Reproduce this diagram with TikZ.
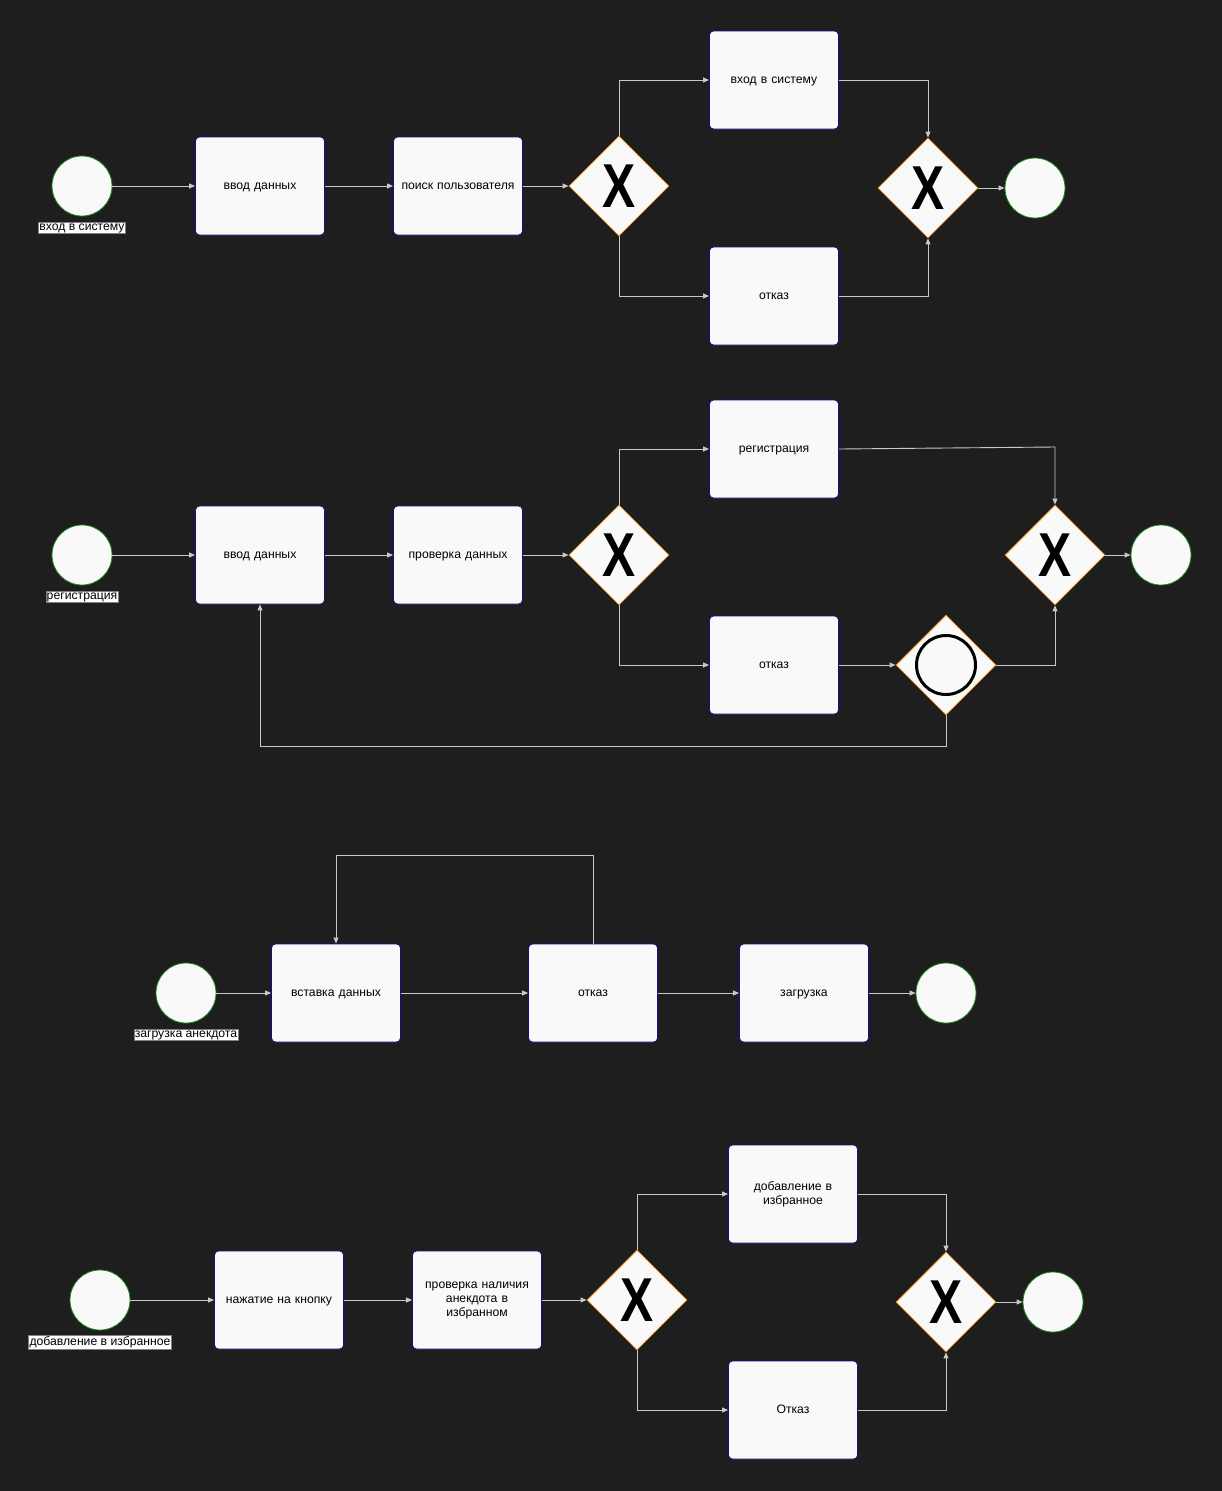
\documentclass[tikz,border=0pt]{standalone}
\usepackage{fontspec}
\setmainfont{Liberation Sans}
\usetikzlibrary{shapes.geometric,arrows.meta}
\definecolor{bg}{HTML}{1E1E1E}
\definecolor{boxfill}{HTML}{F9F9F9}
\definecolor{navy}{HTML}{10108A}
\definecolor{evgreen}{HTML}{1A8A1A}
\definecolor{gworange}{HTML}{E88A10}
\definecolor{linec}{HTML}{C8C8C8}
\tikzset{
 task/.style={draw=navy, fill=boxfill, rounded corners=4pt, minimum width=129pt, minimum height=98pt, line width=0.8pt, align=center, text width=118pt, font=\fontsize{12.2}{14}\selectfont, text=black, inner sep=0pt},
 task1/.style={task, text height=6pt, text depth=0pt},
 ev/.style={circle, draw=evgreen, fill=boxfill, minimum size=60pt, inner sep=0pt, line width=0.8pt},
 gw/.style={diamond, draw=gworange, fill=boxfill, minimum width=100pt, minimum height=100pt, inner sep=0pt, line width=0.8pt, text=black},
 lbl/.style={fill=white, draw=gray, inner sep=1pt, text=black, font=\fontsize{12.2}{13}\selectfont},
 flow/.style={draw=linec, line width=0.9pt, -{Triangle[length=6pt,width=5pt]}, color=linec}
}
\newcommand{\bigX}{\scalebox{0.8}[1]{\fontsize{62}{62}\selectfont\bfseries X}}
\begin{document}
\begin{tikzpicture}[x=1pt,y=-1pt]
\path[fill=bg] (0,0) rectangle (1222,1491);
\useasboundingbox (0,0) rectangle (1222,1491);
% ---------- Section 1
\node[ev] (s1) at (82,186) {};
\node[lbl] (s1l) at (82,228) {вход в систему};
\node[task1] (a1) at (260,186) {ввод данных};
\node[task1] (a2) at (458,186) {поиск пользователя};
\node[gw] (g1) at (619,186) {\bigX};
\node[task1] (a3) at (774,80) {вход в систему};
\node[task1] (a4) at (774,296) {отказ};
\node[gw] (g2) at (928,188) {\bigX};
\node[ev] (e1) at (1035,188) {};
\draw[flow] (s1) -- (a1);
\draw[flow] (a1) -- (a2);
\draw[flow] (a2) -- (g1);
\draw[flow] (g1.north) |- (a3.west);
\draw[flow] (g1.south) |- (a4.west);
\draw[flow] (a3.east) -| (g2.north);
\draw[flow] (a4.east) -| (g2.south);
\draw[flow] (g2) -- (e1);
% ---------- Section 2
\node[ev] (s2) at (82,555) {};
\node[lbl] (s2l) at (82,597) {регистрация};
\node[task1] (b1) at (260,555) {ввод данных};
\node[task1] (b2) at (458,555) {проверка данных};
\node[gw] (g3) at (619,555) {\bigX};
\node[task1] (b3) at (774,449) {регистрация};
\node[task1] (b4) at (774,665) {отказ};
\node[gw] (g4) at (946,665) {};
\draw[black, line width=3pt] (g4.center) circle (29.5pt);
\node[gw] (g5) at (1055,555) {\bigX};
\node[ev] (e2) at (1161,555) {};
\draw[flow] (s2) -- (b1);
\draw[flow] (b1) -- (b2);
\draw[flow] (b2) -- (g3);
\draw[flow] (g3.north) |- (b3.west);
\draw[flow] (g3.south) |- (b4.west);
\draw[flow] (b3.east) -- (1055,447) -- (g5.north);
\draw[flow] (b4) -- (g4);
\draw[flow] (g4.east) -| (g5.south);
\draw[flow] (g4.south) -- (946,746) -| (b1.south);
\draw[flow] (g5) -- (e2);
% ---------- Section 3
\node[ev] (s3) at (186,993) {};
\node[lbl] (s3l) at (186,1035) {загрузка анекдота};
\node[task1] (c1) at (336,993) {вставка данных};
\node[task1] (c2) at (593,993) {отказ};
\node[task1] (c3) at (804,993) {загрузка};
\node[ev] (e3) at (946,993) {};
\draw[flow] (s3) -- (c1);
\draw[flow] (c1) -- (c2);
\draw[flow] (c2) -- (c3);
\draw[flow] (c3) -- (e3);
\draw[flow] (c2.north) -- (593,855) -| (c1.north);
% ---------- Section 4
\node[ev] (s4) at (100,1300) {};
\node[lbl] (s4l) at (100,1342) {добавление в избранное};
\node[task1] (d1) at (279,1300) {нажатие на кнопку};
\node[task] (d2) at (477,1300) {проверка наличия\\анекдота в\\избранном};
\node[gw] (g6) at (637,1300) {\bigX};
\node[task] (d3) at (793,1194) {добавление в\\избранное};
\node[task1] (d4) at (793,1410) {Отказ};
\node[gw] (g7) at (946,1302) {\bigX};
\node[ev] (e4) at (1053,1302) {};
\draw[flow] (s4) -- (d1);
\draw[flow] (d1) -- (d2);
\draw[flow] (d2) -- (g6);
\draw[flow] (g6.north) |- (d3.west);
\draw[flow] (g6.south) |- (d4.west);
\draw[flow] (d3.east) -| (g7.north);
\draw[flow] (d4.east) -| (g7.south);
\draw[flow] (g7) -- (e4);
\end{tikzpicture}
\end{document}
